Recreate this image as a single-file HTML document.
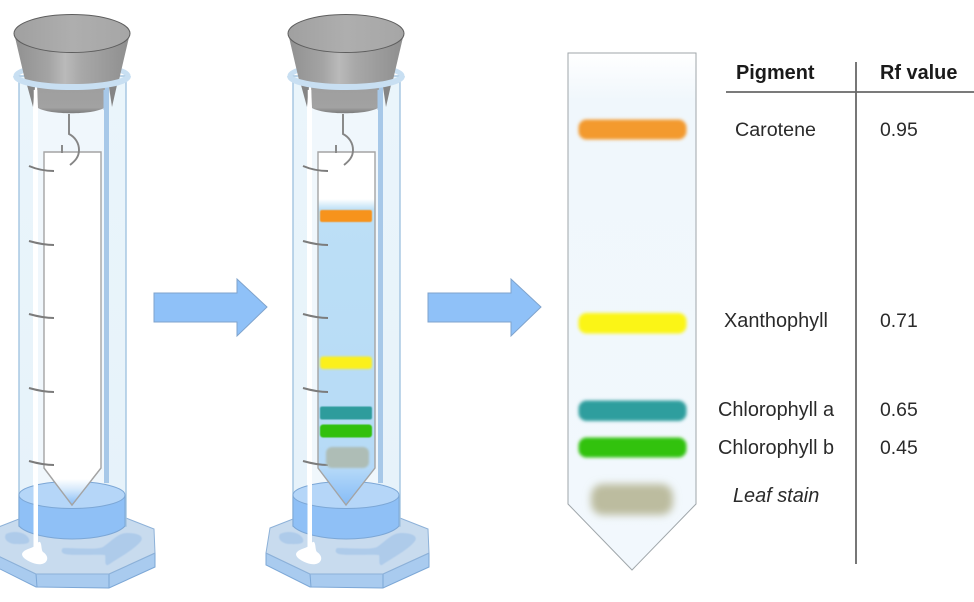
<!DOCTYPE html>
<html>
<head>
<meta charset="utf-8">
<style>
html,body{margin:0;padding:0;background:#fff;width:974px;height:602px;overflow:hidden}
svg{display:block;filter:blur(.35px)}
text{font-family:"Liberation Sans",sans-serif;font-size:19.9px;fill:#2a2a2a}
.n{font-size:19.4px}
.h{font-weight:bold;font-size:19.9px;fill:#1a1a1a}
</style>
</head>
<body>
<svg width="974" height="602" viewBox="0 0 974 602" xmlns="http://www.w3.org/2000/svg">
<defs>
<linearGradient id="gcone" x1="0" x2="1" y1="0" y2="0">
<stop offset="0" stop-color="#909090"/><stop offset=".3" stop-color="#a4a4a4"/><stop offset=".44" stop-color="#bababa"/><stop offset=".58" stop-color="#a8a8a8"/><stop offset="1" stop-color="#8e8e8e"/>
</linearGradient>
<linearGradient id="glow" x1="0" x2="0" y1="0" y2="1">
<stop offset="0" stop-color="#9e9e9e"/><stop offset=".8" stop-color="#a2a2a2"/><stop offset="1" stop-color="#7c7c7c"/>
</linearGradient>
<linearGradient id="gtop" x1="0" x2="1" y1="0" y2="0">
<stop offset="0" stop-color="#a0a0a0"/><stop offset=".5" stop-color="#aeaeae"/><stop offset="1" stop-color="#a6a6a6"/>
</linearGradient>
<linearGradient id="gglass" x1="0" x2="0" y1="0" y2="1">
<stop offset="0" stop-color="#eaf5fb"/><stop offset="1" stop-color="#e6f2fa"/>
</linearGradient>
<linearGradient id="gtip" x1="0" x2="0" y1="0" y2="1">
<stop offset="0" stop-color="#ffffff"/><stop offset=".4" stop-color="#d6e9fb"/><stop offset="1" stop-color="#86bcf7"/>
</linearGradient>
<linearGradient id="gwet" x1="0" x2="0" y1="0" y2="1">
<stop offset="0" stop-color="#ffffff"/><stop offset=".035" stop-color="#bcdff6"/><stop offset=".8" stop-color="#b7dbf6"/><stop offset=".88" stop-color="#b5d9f8"/><stop offset="1" stop-color="#86bcf7"/>
</linearGradient>
<linearGradient id="gstrip" x1="0" x2="0" y1="0" y2="1">
<stop offset="0" stop-color="#ffffff"/><stop offset=".09" stop-color="#f0f7fc"/><stop offset="1" stop-color="#f2f8fd"/>
</linearGradient>
<filter id="b1" x="-20%" y="-50%" width="140%" height="200%"><feGaussianBlur stdDeviation="1"/></filter>
<filter id="b2" x="-20%" y="-50%" width="140%" height="200%"><feGaussianBlur stdDeviation="1.6"/></filter>
<filter id="b4" x="-30%" y="-50%" width="160%" height="200%"><feGaussianBlur stdDeviation="4"/></filter>
<filter id="b06" x="-10%" y="-10%" width="120%" height="120%"><feGaussianBlur stdDeviation="0.5"/></filter>

<g id="cyl">
  <!-- base -->
  <polygon points="-8,553 -8,565 36,587 109,588 155,567 155,553 109,574 36,574" fill="#a9cbef" stroke="#7ca7d6" stroke-width="1"/>
  <line x1="36" y1="574" x2="37" y2="587" stroke="#7ca7d6"/>
  <line x1="109" y1="574" x2="109" y2="588" stroke="#7ca7d6"/>
  <polygon points="-4,528 19,519 126,518 154,529 155,553 109,574 36,574 -8,553" fill="#c8dbee" stroke="#8db1d8" stroke-width="1"/>
  <path d="M6,534 C14,530 26,532 29,539 C31,545 22,544 14,544 C8,543 3,539 6,534Z" fill="#aecbea" filter="url(#b06)"/>
  <path d="M63,548 C80,548 96,550 103,547 C112,541 118,533 127,533 C138,533 144,536 141,541 C134,550 118,558 108,565 C104,566 106,558 105,555 C95,554 75,556 65,554 C61,553 61,550 63,548Z" fill="#aecbea" filter="url(#b06)"/>
  <!-- glass -->
  <rect x="19" y="76" width="107" height="450" fill="url(#gglass)" stroke="#a2c4e0" stroke-width="1.4"/>
  <rect x="38" y="85" width="66" height="400" fill="#f0f7fc"/>
  <rect x="104" y="85" width="5" height="398" fill="#a7c8e8"/>
  <rect x="33" y="85" width="5" height="420" fill="#ffffff"/>
  <!-- water -->
  <path d="M19,495 L19,526 C26,534 50,539 72,539 C96,539 118,534 125,526 L125,495Z" fill="#8fc0f6" stroke="#7ca7d6" stroke-width="1"/>
  <ellipse cx="72" cy="495" rx="53" ry="13.5" fill="#b5d6f8" stroke="#7ca7d6" stroke-width="1"/>
  <rect x="33.500" y="440" width="4.500" height="108" fill="#ffffff"/>
  <path d="M33,547 C36,546 38,541 40,542 C42,544 41,550 43,552 C46,554 48,557 47,560 C45,565 38,565 33,563 C28,561 22,558 22,554 C23,550 29,549 33,547Z" fill="#ffffff"/>
</g>

<g id="top">
  <!-- ring back and stopper -->
  <ellipse cx="72" cy="76" rx="56" ry="11" fill="none" stroke="#c8dff2" stroke-width="5"/>
  <path d="M27,85 L33,107 L35,87Z" fill="#858585"/>
  <path d="M117,85 L112,107 L109,87Z" fill="#858585"/>
  <path d="M37,85 L38,108 C50,115 92,115 104,108 L105,85Z" fill="url(#glow)"/>
  <path d="M14,33 L25,80 C40,90 104,90 119,80 L130,33Z" fill="url(#gcone)"/>
  <ellipse cx="72" cy="33.500" rx="58" ry="19" fill="url(#gtop)" stroke="#5e5e5e" stroke-width="1"/>
  <!-- ring front -->
  <path d="M16,76 A56,11 0 0 0 128,76" fill="none" stroke="#c8dff2" stroke-width="6"/>
  <line x1="105.500" y1="90" x2="105.500" y2="110" stroke="#a7c8e8" stroke-width="4"/>
  <line x1="35.500" y1="90" x2="35.500" y2="110" stroke="#ffffff" stroke-width="3.500"/>
  <!-- hook -->
  <path d="M69,114 L69,134 C75,137 79,143 79,150 C79,157 75,161 70,165" fill="none" stroke="#858585" stroke-width="1.900"/>
  <line x1="62" y1="145" x2="62" y2="153" stroke="#858585" stroke-width="1.900"/>
</g>

<g id="ticks" fill="none" stroke="#7c7c7c" stroke-width="2">
  <path d="M29,166 C36,169 44,171 54,171"/>
  <path d="M29,241 C36,243 44,245 54,245"/>
  <path d="M29,314 C36,316 44,318 54,318"/>
  <path d="M29,388 C36,390 44,392 54,392"/>
  <path d="M29,461 C36,463 44,465 54,465"/>
</g>

<polygon id="arrow" points="154,293 237,293 237,279 267,307 237,336 237,322 154,322" fill="#8fc1f8" stroke="#7fa3cc" stroke-width="1"/>
</defs>

<!-- cylinder 1 -->
<use href="#cyl"/>
<polygon points="44,152 101,152 101,468 72,505 44,468" fill="#fff" stroke="#a4a4a4" stroke-width="1.400"/>
<path d="M53,479 L92,479 L72,505Z" fill="url(#gtip)"/>
<polyline points="44,468 72,505 101,468" fill="none" stroke="#a4a4a4" stroke-width="1.400"/>
<use href="#top"/>
<use href="#ticks"/>

<!-- arrow 1 -->
<use href="#arrow"/>

<!-- cylinder 2 -->
<g transform="translate(274,0)">
  <use href="#cyl"/>
  <polygon points="44,152 101,152 101,468 72,505 44,468" fill="#fff"/>
  <polygon points="44,199 101,199 101,468 72,505 44,468" fill="url(#gwet)"/>
  <polygon points="44,152 101,152 101,468 72,505 44,468" fill="none" stroke="#a4a4a4" stroke-width="1.400"/>
  <use href="#top"/>
  <use href="#ticks"/>
  <rect x="46" y="210" width="52" height="12" rx="2" fill="#f7931e" filter="url(#b06)"/>
  <rect x="46" y="356.500" width="52" height="12.500" rx="3" fill="#fbf01e" filter="url(#b1)"/>
  <rect x="46" y="406.500" width="52" height="13" rx="2" fill="#2e9c9c" filter="url(#b06)"/>
  <rect x="46" y="424.500" width="52" height="13" rx="3" fill="#30c010" filter="url(#b06)"/>
  <rect x="52" y="447" width="43" height="21" rx="6" fill="#aebdb6" filter="url(#b1)"/>
</g>

<!-- arrow 2 -->
<use href="#arrow" x="274"/>

<!-- right strip -->
<polygon points="568,53 696,53 696,504 632,570 568,504" fill="url(#gstrip)" stroke="#9fa6aa" stroke-width="1"/>
<rect x="578.500" y="119.500" width="108" height="20" rx="8" fill="#f39a2e" filter="url(#b2)"/>
<rect x="578.500" y="313" width="108" height="20.500" rx="8" fill="#fbf512" filter="url(#b2)"/>
<rect x="578.500" y="400.500" width="108" height="20.500" rx="8" fill="#2f9e9e" filter="url(#b2)"/>
<rect x="578.500" y="437.500" width="108" height="20" rx="8" fill="#32c20c" filter="url(#b2)"/>
<rect x="591" y="484" width="82" height="31" rx="12" fill="#bcbc9f" filter="url(#b4)"/>

<!-- table -->
<line x1="726" y1="92" x2="974" y2="92" stroke="#686868" stroke-width="1.800"/>
<line x1="856" y1="62" x2="856" y2="564" stroke="#686868" stroke-width="1.800"/>
<text x="736" y="79" class="h">Pigment</text>
<text x="880" y="79" class="h">Rf value</text>
<text x="735" y="136" style="font-size:19.7px">Carotene</text>
<text x="880" y="136" class="n">0.95</text>
<text x="724" y="327">Xanthophyll</text>
<text x="880" y="327" class="n">0.71</text>
<text x="718" y="416">Chlorophyll a</text>
<text x="880" y="416" class="n">0.65</text>
<text x="718" y="454">Chlorophyll b</text>
<text x="880" y="454" class="n">0.45</text>
<text x="733" y="502" style="font-style:italic">Leaf stain</text>
</svg>
</body>
</html>
